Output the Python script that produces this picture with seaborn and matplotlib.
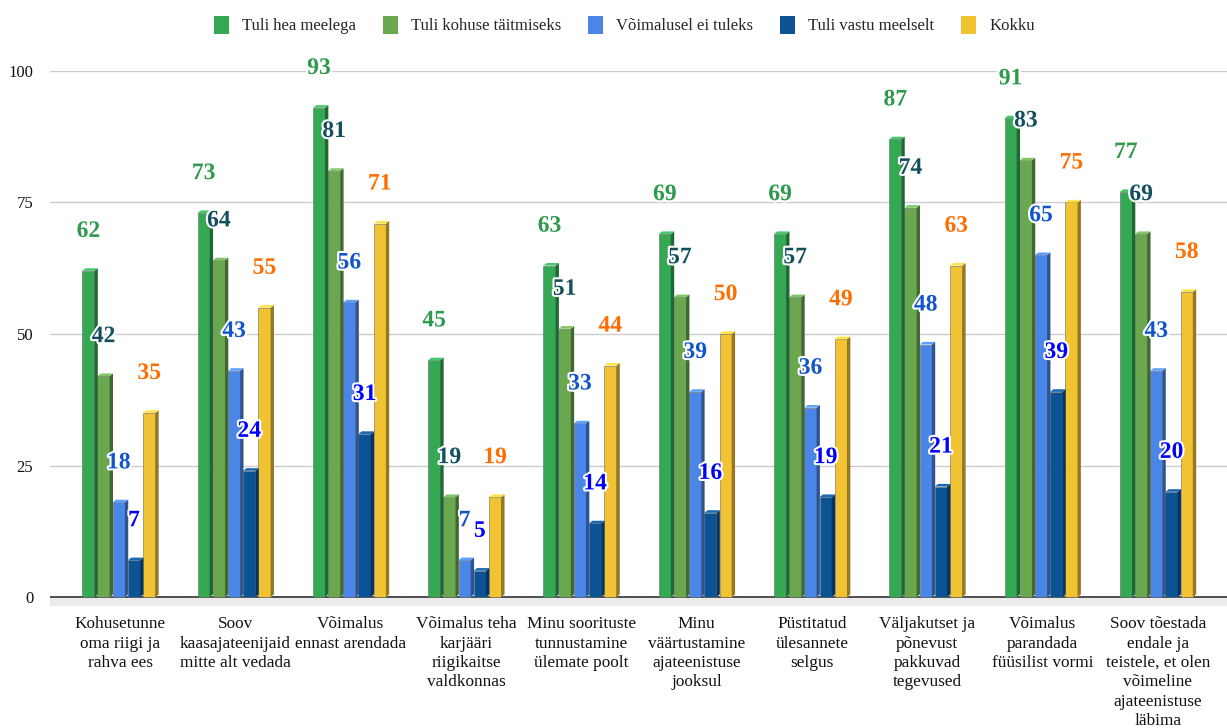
import matplotlib
matplotlib.use("Agg")
import matplotlib.pyplot as plt
import matplotlib.patches as mpatches
import matplotlib.patheffects as pe
from matplotlib.colors import to_rgb
import seaborn as sns
import pandas as pd
import numpy as np

# --- andmed ---
kategooriad = [
    "Kohusetunne\noma riigi ja\nrahva ees",
    "Soov\nkaasajateenijaid\nmitte alt vedada",
    "Võimalus\nennast arendada",
    "Võimalus teha\nkarjääri\nriigikaitse\nvaldkonnas",
    "Minu soorituste\ntunnustamine\nülemate poolt",
    "Minu\nväärtustamine\najateenistuse\njooksul",
    "Püstitatud\nülesannete\nselgus",
    "Väljakutset ja\npõnevust\npakkuvad\ntegevused",
    "Võimalus\nparandada\nfüüsilist vormi",
    "Soov tõestada\nendale ja\nteistele, et olen\nvõimeline\najateenistuse\nläbima",
]
seeriad = ["Tuli hea meelega", "Tuli kohuse täitmiseks", "Võimalusel ei tuleks",
           "Tuli vastu meelselt", "Kokku"]
hea_meelega = [62, 73, 93, 45, 63, 69, 69, 87, 91, 77]
kohuse_taitmiseks = [42, 64, 81, 19, 51, 57, 57, 74, 83, 69]
ei_tuleks = [18, 43, 56, 7, 33, 39, 36, 48, 65, 43]
vastu_meelselt = [7, 24, 31, 5, 14, 16, 19, 21, 39, 20]
kokku = [35, 55, 71, 19, 44, 50, 49, 63, 75, 58]
y_ticks = [0, 25, 50, 75, 100]

tulbad = ["#34a853", "#6aa84f", "#4a86e8", "#0b5394", "#f1c232"]
sildid = ["#2e9a4c", "#134f5c", "#1155cc", "#0000ff", "#ff6d01"]

df = pd.DataFrame({
    "kategooria": np.repeat(kategooriad, len(seeriad)),
    "seeria": seeriad * len(kategooriad),
    "vaartus": np.array([hea_meelega, kohuse_taitmiseks, ei_tuleks,
                         vastu_meelselt, kokku]).T.ravel(),
})

sns.set_style("white")
plt.rcParams['font.family'] = ['Liberation Serif', 'DejaVu Serif']

fig = plt.figure(figsize=(12.27, 7.28), dpi=100)
ax = fig.add_axes([50 / 1227, 0.1669, 1177 / 1227, 0.9025 - 0.1669])

sns.barplot(data=df, x="kategooria", y="vaartus", hue="seeria",
            order=kategooriad, hue_order=seeriad, palette=tulbad,
            saturation=1, width=0.66, legend=False, ax=ax, zorder=3,
            edgecolor="#666666", linewidth=0.4)


def tumedam(c, k):
    r, g, b = to_rgb(c)
    return (r * k, g * k, b * k)


def heledam(c):
    return tuple(min(1, v * 1.1 + 0.05) for v in to_rgb(c))


# 3D-efekt: külg ja pealispind
for i, cont in enumerate(ax.containers):
    for bar in cont:
        x0 = bar.get_x()
        w = bar.get_width()
        h = bar.get_height()
        wn = w * 0.8
        bar.set_width(wn)
        dx = w * 0.22
        dy = 0.5
        ax.add_patch(mpatches.Polygon(
            [(x0 + wn, 0), (x0 + wn + dx, dy), (x0 + wn + dx, h + dy), (x0 + wn, h)],
            closed=True, facecolor=tumedam(tulbad[i], 0.62), edgecolor="none", zorder=3))
        ax.add_patch(mpatches.Polygon(
            [(x0, h), (x0 + dx, h + dy), (x0 + wn + dx, h + dy), (x0 + wn, h)],
            closed=True, facecolor=heledam(tulbad[i]), edgecolor="none", zorder=3))
        ax.text(x0 + wn / 2, h + 7.5, f"{h:.0f}", ha="center", va="center",
                fontsize=17, fontweight="bold", color=sildid[i], zorder=6,
                path_effects=[pe.withStroke(linewidth=3, foreground="white")])

ax.set_xlim(-0.61, 9.6)
ax.set_ylim(-1.8, 100)
ax.set_yticks(y_ticks)
ax.set_yticklabels([str(t) for t in y_ticks], fontsize=12, color="#111111")
ax.grid(axis="y", color="#cccccc", linewidth=1, zorder=0)
ax.axhspan(-1.8, 0, color="#ebebeb", zorder=1, lw=0)
ax.axhline(0, color="#333333", linewidth=1.2, zorder=2)
for s in ax.spines.values():
    s.set_visible(False)
ax.tick_params(axis="both", length=0)
ax.tick_params(axis="x", pad=7)
ax.tick_params(axis="y", pad=12)
ax.set_xticks(range(len(kategooriad)))
ax.set_xticklabels(kategooriad, fontsize=12.4, linespacing=1.28, color="#111111")
ax.set_xlabel("")
ax.set_ylabel("")

kasted = [mpatches.Patch(facecolor=c, edgecolor="none") for c in tulbad]
fig.legend(kasted, seeriad, loc="center", bbox_to_anchor=(0.509, 1 - 25 / 728),
           ncol=5, frameon=False, fontsize=12, handlelength=0.9,
           handleheight=1.3, handletextpad=0.8, columnspacing=1.6)

fig.savefig("out.png", dpi=100)
